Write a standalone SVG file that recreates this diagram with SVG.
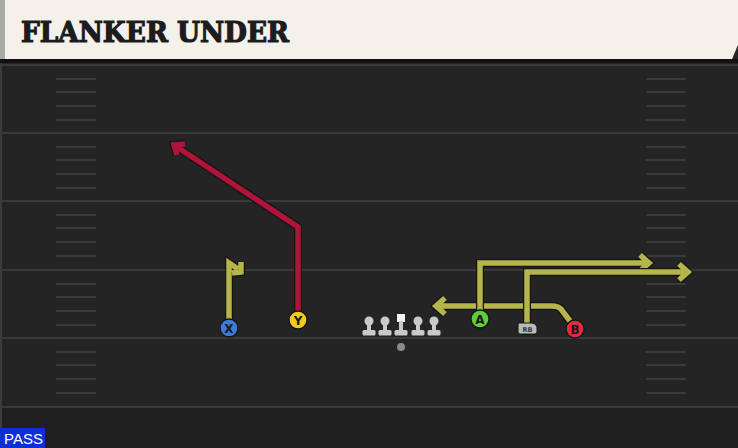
<svg xmlns="http://www.w3.org/2000/svg" width="738" height="448" viewBox="0 0 738 448">
<style>
.yl{stroke:#3a3a3a;stroke-width:2;fill:none}
.hm{stroke:#3b3b3b;stroke-width:2;fill:none;stroke-linecap:round}
.out{fill:none;stroke:#141414;stroke-width:8;stroke-linejoin:miter;stroke-linecap:butt;stroke-miterlimit:3}
.ry{fill:none;stroke:#b5b54b;stroke-width:5.5;stroke-linejoin:miter;stroke-linecap:butt;stroke-miterlimit:3}
.rr{fill:none;stroke:#b0143a;stroke-width:5.5;stroke-linejoin:miter;stroke-linecap:butt;stroke-miterlimit:3}
.pl{stroke:#141414;stroke-width:1.3}
.lbl{font-family:"DejaVu Sans","Liberation Sans",sans-serif;font-weight:bold;font-size:12px;fill:#1a1a1a;text-anchor:middle}
.ol{fill:#c9c9c9}
</style>
<defs>
<g id="hash4">
<line class="hm" x1="57" x2="95" y1="14" y2="14"/>
<line class="hm" x1="57" x2="95" y1="27" y2="27"/>
<line class="hm" x1="57" x2="95" y1="41" y2="41"/>
<line class="hm" x1="57" x2="95" y1="55" y2="55"/>
<line class="hm" x1="647" x2="685" y1="14" y2="14"/>
<line class="hm" x1="647" x2="685" y1="27" y2="27"/>
<line class="hm" x1="647" x2="685" y1="41" y2="41"/>
<line class="hm" x1="647" x2="685" y1="55" y2="55"/>
</g>
<g id="lineman">
<circle cx="0" cy="-9" r="4.5"/>
<rect x="-2" y="-8" width="4" height="9"/>
<rect x="-6.5" y="0" width="13" height="5.5" rx="1.5"/>
</g>
</defs>
<rect x="0" y="0" width="738" height="448" fill="#242424"/>
<rect x="0" y="407" width="738" height="41" fill="#202020"/>
<rect x="0" y="60" width="2" height="388" fill="#3c3c3c"/>
<g id="field">
<line class="yl" x1="0" x2="738" y1="65" y2="65"/>
<line class="yl" x1="0" x2="738" y1="133" y2="133"/>
<line class="yl" x1="0" x2="738" y1="201" y2="201"/>
<line class="yl" x1="0" x2="738" y1="270" y2="270"/>
<line class="yl" x1="0" x2="738" y1="338" y2="338"/>
<line class="yl" x1="0" x2="738" y1="407" y2="407"/>
<use href="#hash4" y="65"/>
<use href="#hash4" y="133"/>
<use href="#hash4" y="201"/>
<use href="#hash4" y="270"/>
<use href="#hash4" y="338"/>
</g>
<g id="header">
<rect x="0" y="59" width="738" height="4" fill="#111"/>
<path d="M0,0 H738 V45 L732,59 H0 Z" fill="#f4f1ea"/>
<rect x="0" y="0" width="5" height="59" fill="#a9aba8"/>
<text x="21" y="42" font-family="'DejaVu Serif','Liberation Serif',serif" font-weight="bold" font-size="28" fill="#1c1c1c" stroke="#1c1c1c" stroke-width="1.2" textLength="268" lengthAdjust="spacingAndGlyphs">FLANKER UNDER</text>
</g>
<g id="connectors">
<path class="out" d="M570,321 L561,309 Q558,306 552,306 H436 M445,298 L436,306 L445,314"/>
<path class="ry" d="M570,321 L561,309 Q558,306 552,306 H436 M445,298 L436,306 L445,314"/>
<path class="out" d="M480,312 V263 H649 M640,255 L649,263 L640,271"/>
<path class="ry" d="M480,312 V263 H649 M640,255 L649,263 L640,271"/>
<path class="out" d="M527,325 V272 H688 M679,264 L688,272 L679,280"/>
<path class="ry" d="M527,325 V272 H688 M679,264 L688,272 L679,280"/>
<path class="out" d="M229,320 V263 L238,269 M241,262 L241,272 L232,273"/>
<path class="ry" d="M229,320 V263 L238,269 M241,262 L241,272 L232,273"/>
<path class="out" d="M298,312 V227 L174,145 M185,144 L174,145 L177,155"/>
<path class="rr" d="M298,312 V227 L174,145 M185,144 L174,145 L177,155"/>
</g>
<g id="node-X"><circle class="pl" cx="229" cy="328" r="9" fill="#3d7ad9"/><text class="lbl" x="229" y="332.5">X</text></g>
<g id="node-Y"><circle class="pl" cx="298" cy="320" r="9" fill="#f2cb1d"/><text class="lbl" x="298" y="324.5">Y</text></g>
<g id="node-A"><circle class="pl" cx="480" cy="319" r="9" fill="#5fcc3a"/><text class="lbl" x="480" y="323.5">A</text></g>
<g id="node-B"><circle class="pl" cx="575" cy="329" r="9" fill="#e3293f"/><text class="lbl" x="575" y="333.5">B</text></g>
<g id="node-RB"><path d="M519,323 H532 Q536,323 537,327 L537,332 Q537,334 535,334 H520 Q518,334 518,332 V325 Q518,323 519,323 Z" fill="#b9b9b9" stroke="#141414" stroke-width="1"/><text x="527.5" y="331.5" font-family="'DejaVu Sans','Liberation Sans',sans-serif" font-size="6.5" font-weight="bold" fill="#333" text-anchor="middle">RB</text></g>
<g id="node-OL" class="ol">
<use href="#lineman" x="369" y="330"/>
<use href="#lineman" x="385" y="330"/>
<g><rect x="397" y="314" width="8" height="8" fill="#f2f2f2"/><rect x="399" y="321" width="4" height="9"/><rect x="394.5" y="330" width="13" height="5.5" rx="1.5"/></g>
<use href="#lineman" x="418" y="330"/>
<use href="#lineman" x="434" y="330"/>
</g>
<g id="node-ball"><circle cx="401" cy="347" r="4" fill="#8a8a8a"/></g>
<g id="pass-label"><rect x="0" y="428" width="45" height="20" fill="#0f2fd6"/><text x="4" y="444" font-family="'Liberation Sans',Arial,sans-serif" font-size="15" fill="#ffffff">PASS</text></g>
</svg>
